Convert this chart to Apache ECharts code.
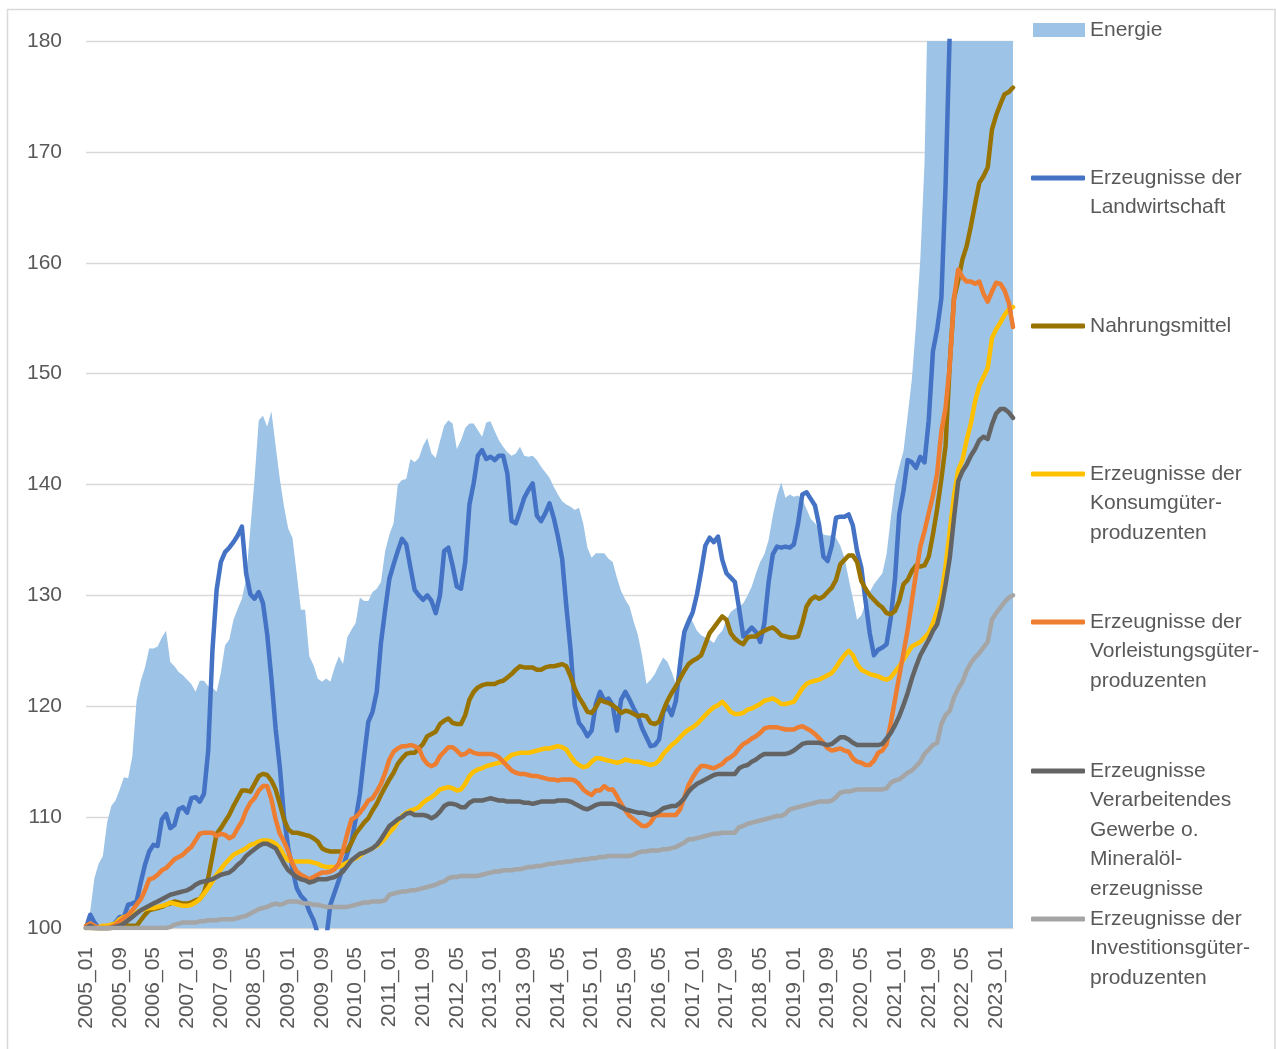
<!DOCTYPE html>
<html>
<head>
<meta charset="utf-8">
<title>Erzeugerpreise</title>
<script src="https://cdn.jsdelivr.net/npm/echarts@6/dist/echarts.min.js"></script>
<style>
  html, body { margin: 0; padding: 0; background: #fff; }
  #chart { width: 1276px; height: 1049px; }
</style>
</head>
<body>
<div id="chart"></div>
<script>
// Monatswerte 2005_01 .. 2023_05 (Index, 2005_01 = 100)
const months = []
for (let y = 2005; y <= 2023; y++) {
    for (let m = 1; m <= 12; m++) {
        if (y === 2023 && m > 5) break
        months.push(y + '_' + String(m).padStart(2, '0'))
    }
}

const yTicks = { min: 100, max: 180, interval: 10 }

const energie = [
    100, 101.5, 104.5, 105.8, 106.5, 109.5, 111, 111.5, 112.5, 113.6,
    113.5, 115.5, 120.5, 122.3, 123.5, 125.2, 125.2, 125.4, 126.2, 126.8,
    124, 123.6, 123.1, 122.8, 122.4, 122, 121.3, 122.3, 122.3, 121.8,
    121.7, 121.3, 123, 125.5, 126, 127.8, 128.8, 129.7, 131.5, 136,
    140.5, 145.8, 146.2, 145.2, 146.6, 143.5, 140.5, 138, 136, 135.2,
    132, 128.7, 128.7, 124.5, 123.7, 122.5, 122.2, 122.5, 122.2, 123.5,
    124.5, 123.8, 126.2, 126.9, 127.5, 129.8, 129.5, 129.5, 130.3, 130.6,
    131.2, 134, 135.5, 136.5, 140, 140.4, 140.5, 142.3, 142, 142.4,
    143.5, 144.2, 142.8, 142.4, 143.9, 145.3, 145.8, 145.5, 143.2, 144,
    145.1, 145.5, 145.5, 144.9, 144.3, 145.6, 145.7, 144.8, 144, 143.4,
    142.9, 142.6, 142.8, 143.4, 142.6, 142.5, 142.6, 142.2, 141.6, 141.1,
    140.6, 139.8, 139.1, 138.5, 138.2, 138, 137.7, 137.9, 136.5, 134.3,
    133.4, 133.8, 133.8, 133.8, 133.3, 133, 131.6, 130.4, 129.6, 129,
    127.6, 126.4, 124.5, 122, 122.4, 122.9, 123.7, 124.4, 124, 123.1,
    122, 125.8, 127.3, 128.2, 127.6, 126.8, 126.4, 126.2, 126, 125.7,
    126.4, 126.8, 127.8, 128.5, 128.8, 129, 129.3, 130, 130.8, 132,
    133, 133.7, 135, 137.2, 139, 140.2, 138.8, 139.1, 138.9, 139,
    138.7, 137.8, 136.9, 136.5, 136, 135.5, 135.4, 135.4, 135.2, 134.5,
    133.4, 131.5, 129.7, 127.8, 128.2, 129.3, 130.3, 131, 131.5, 132,
    133.7, 137, 140, 141.6, 143, 146.2, 149.5, 154.5, 160.3, 169,
    188, 195, 205, 215, 225, 240, 250, 260, 270, 280,
    285, 280, 275, 265, 255, 245, 235, 225, 215, 205, 200
]

const landwirtschaft = [
    100, 101.2, 100.5, 100, 100, 100, 100.2, 100.5, 101, 101,
    102.1, 102.2, 102.4, 104.1, 105.7, 106.9, 107.5, 107.4, 109.8, 110.3,
    109, 109.3, 110.7, 110.9, 110.4, 111.7, 111.8, 111.4, 112.1, 116,
    125, 130.5, 133, 133.9, 134.3, 134.8, 135.4, 136.2, 132, 130.1,
    129.7, 130.3, 129.3, 126.5, 122.5, 118, 114.5, 110, 107.2, 105.3,
    103.6, 102.9, 102.5, 101.5, 100.7, 99.5, 97.5, 99, 102.1, 103.2,
    104.3, 105.5, 106.7, 107.8, 109.8, 112.1, 115.5, 118.6, 119.5, 121.3,
    125.7, 128.7, 131.5, 132.8, 134, 135.1, 134.6, 132.5, 130.5, 130,
    129.6, 130, 129.5, 128.4, 130, 134, 134.3, 132.7, 130.8, 130.6,
    133, 138.2, 140.1, 142.6, 143.1, 142.3, 142.5, 142.2, 142.6, 142.6,
    141, 136.7, 136.5, 137.6, 138.8, 139.5, 140.1, 137.2, 136.7, 137.4,
    138.3, 137, 135.3, 133.3, 129, 125.1, 120.1, 118.5, 118, 117.3,
    117.8, 120.2, 121.3, 120.5, 120.7, 120.1, 117.8, 120.6, 121.3, 120.6,
    119.8, 119.1, 118, 117.2, 116.4, 116.5, 117, 119.5, 120, 119.2,
    120.5, 123.8, 126.7, 127.6, 128.5, 130.1, 132.2, 134.5, 135.2, 134.8,
    135.3, 133.2, 132, 131.6, 131.2, 128.8, 126.3, 126.7, 127.1, 126.7,
    125.8, 127.5, 131.2, 133.7, 134.4, 134.3, 134.4, 134.3, 134.6, 136.5,
    139.1, 139.3, 138.7, 138.1, 136.3, 133.5, 133.1, 134.5, 137, 137.1,
    137.1, 137.3, 136.3, 134, 132.5, 129.5, 126.6, 124.6, 125.1, 125.3,
    125.6, 128, 131.5, 137.3, 139.4, 142.2, 142, 141.5, 142.5, 142,
    145.8, 152, 154, 156.8, 167, 181, 185, 190, 192, 195,
    198, 200, 198, 195, 192, 190, 188, 186, 185, 184, 183
]

const nahrungsmittel = [
    100, 100, 99.9, 99.8, 99.8, 99.9, 100, 100.1, 100.3, 100.4,
    100.2, 100.2, 100.2, 100.7, 101.2, 101.6, 101.7, 101.8, 101.9, 102.1,
    102.2, 102.4, 102.3, 102.2, 102.2, 102.3, 102.5, 102.6, 103.2, 104.5,
    106.5, 108.5, 109, 109.6, 110.2, 111, 111.7, 112.4, 112.4, 112.3,
    113, 113.7, 113.9, 113.8, 113.3, 112.5, 111.2, 109.8, 108.9, 108.6,
    108.6, 108.5, 108.4, 108.3, 108.1, 107.8, 107.2, 107, 106.9, 106.9,
    106.9, 106.9, 107, 107.7, 108.5, 109, 109.5, 109.9, 110.6, 111.2,
    112, 112.7, 113.4, 114, 114.8, 115.3, 115.7, 115.8, 115.8, 116.2,
    116.6, 117.3, 117.5, 117.7, 118.4, 118.7, 118.9, 118.5, 118.4, 118.4,
    119.2, 120.6, 121.3, 121.7, 121.9, 122, 122, 122, 122.2, 122.3,
    122.6, 122.9, 123.3, 123.6, 123.5, 123.5, 123.5, 123.3, 123.3, 123.5,
    123.6, 123.6, 123.7, 123.8, 123.6, 122.7, 121.6, 120.8, 120.2, 119.5,
    119.4, 119.9, 120.6, 120.4, 120.3, 120.1, 119.8, 119.4, 119.6, 119.5,
    119.3, 119.1, 119.2, 119.1, 118.5, 118.4, 118.6, 119.6, 120.5, 121.2,
    121.8, 122.5, 123.2, 123.8, 124.1, 124.3, 124.6, 125.6, 126.6, 127.1,
    127.6, 128.1, 127.8, 126.6, 126.1, 125.8, 125.6, 126.2, 126.3, 126.3,
    126.6, 126.8, 127, 127.1, 126.8, 126.4, 126.3, 126.2, 126.2, 126.3,
    127.5, 129, 129.6, 129.9, 129.7, 129.9, 130.3, 130.7, 131.4, 132.8,
    133.2, 133.6, 133.6, 133, 131.3, 130.6, 130, 129.6, 129.2, 128.9,
    128.4, 128.3, 128.6, 129.5, 131, 131.4, 132.2, 132.7, 132.6, 132.7,
    133.5, 135.5, 137.8, 140.5, 143.5, 151, 156.8, 158.4, 160.3, 161.5,
    163.3, 165.3, 167.2, 167.8, 168.6, 172, 173.3, 174.3, 175.2, 175.4, 175.8
]

const konsumgueter = [
    100, 100, 100, 100.1, 100.2, 100.2, 100.3, 100.4, 100.8, 101,
    101.1, 101.2, 101.4, 101.6, 101.7, 101.8, 101.8, 101.9, 102, 102.1,
    102.3, 102.2, 102.1, 102, 102, 102.1, 102.3, 102.6, 103.1, 103.6,
    104.2, 104.8, 105.3, 105.8, 106.2, 106.6, 106.8, 107, 107.2, 107.5,
    107.6, 107.8, 107.9, 107.9, 107.8, 107.6, 107.2, 106.5, 106.1, 106,
    106, 106, 106, 106, 105.9, 105.8, 105.6, 105.5, 105.5, 105.5,
    105.5, 105.7, 105.9, 106.1, 106.3, 106.5, 106.8, 107, 107.2, 107.4,
    107.7, 108.1, 108.6, 109, 109.6, 110.1, 110.4, 110.6, 110.7, 110.9,
    111.3, 111.6, 111.8, 112.1, 112.5, 112.6, 112.7, 112.6, 112.4, 112.5,
    113, 113.7, 114.1, 114.3, 114.4, 114.6, 114.7, 114.8, 114.9, 115,
    115.3, 115.6, 115.7, 115.8, 115.8, 115.8, 115.9, 116, 116.1, 116.2,
    116.2, 116.3, 116.4, 116.3, 116.1, 115.5, 115, 114.7, 114.5, 114.6,
    115, 115.3, 115.3, 115.2, 115.1, 115, 114.9, 115, 115.2, 115.1,
    115, 115, 114.9, 114.8, 114.7, 114.8, 115.1, 115.7, 116.1, 116.5,
    116.8, 117.2, 117.6, 117.9, 118.1, 118.4, 118.8, 119.2, 119.6, 119.9,
    120.1, 120.4, 120, 119.5, 119.3, 119.3, 119.4, 119.7, 119.8, 120,
    120.2, 120.5, 120.6, 120.7, 120.5, 120.2, 120.2, 120.3, 120.4, 121,
    121.6, 122, 122.2, 122.3, 122.4, 122.6, 122.8, 123, 123.5, 124.1,
    124.6, 125, 124.6, 123.8, 123.3, 123.1, 122.9, 122.8, 122.7, 122.5,
    122.4, 122.6, 123.1, 123.6, 124.2, 124.8, 125.4, 125.6, 125.8, 126.2,
    126.6, 127.5, 128.6, 130, 132.6, 135.8, 139, 141.3, 142.2, 144,
    145.5, 147.5, 148.9, 149.7, 150.5, 153.2, 154, 154.6, 155.3, 155.8, 156
]

const vorleistungsgueter = [
    100.2, 100.4, 100.2, 100, 100, 100, 100.1, 100.3, 100.6, 100.9,
    101.2, 101.6, 102.1, 102.6, 103.4, 104.4, 104.5, 104.8, 105.2, 105.4,
    105.8, 106.2, 106.4, 106.6, 107, 107.3, 107.9, 108.5, 108.6, 108.6,
    108.6, 108.3, 108.5, 108.4, 108.1, 108.3, 109, 109.6, 110.6, 111.3,
    111.7, 112.4, 112.8, 112.8, 111.6, 109.8, 108.5, 107.8, 106.9, 105.8,
    105.1, 104.8, 104.6, 104.4, 104.6, 104.8, 105, 105, 105.1, 105.3,
    105.8, 107, 108.5, 109.8, 110, 110.4, 110.9, 111.5, 111.7, 112.3,
    113, 114, 115.2, 115.9, 116.2, 116.4, 116.4, 116.5, 116.4, 116.2,
    115.3, 114.8, 114.6, 114.8, 115.5, 115.9, 116.3, 116.3, 116, 115.6,
    115.7, 116, 115.8, 115.7, 115.7, 115.7, 115.7, 115.6, 115.4, 115,
    114.6, 114.2, 114, 113.9, 113.9, 113.8, 113.7, 113.7, 113.6, 113.5,
    113.4, 113.4, 113.3, 113.4, 113.4, 113.4, 113.3, 113, 112.5, 112.2,
    112, 112.4, 112.4, 112.8, 112.5, 112.5, 111.9, 111.2, 110.6, 110.1,
    109.8, 109.5, 109.2, 109.2, 109.5, 110.1, 110.2, 110.2, 110.2, 110.2,
    110.2, 110.7, 111.8, 112.9, 113.6, 114.2, 114.6, 114.6, 114.5, 114.4,
    114.6, 114.8, 115.2, 115.4, 115.7, 116.2, 116.6, 116.8, 117.1, 117.3,
    117.6, 118, 118.1, 118.1, 118.1, 118, 117.9, 117.9, 117.9, 118.1,
    118.2, 118, 117.8, 117.5, 117.1, 116.7, 116.2, 116, 116.1, 116.2,
    116, 115.9, 115.3, 115, 114.9, 114.7, 114.7, 115.1, 115.8, 116,
    116.6, 118.5, 120.6, 122.7, 124.8, 126.9, 129.5, 132, 134.4, 135.8,
    137.4, 139, 141, 144.8, 146.9, 150.8, 156.8, 159.4, 158.7, 158.3,
    158.3, 158.1, 158.3, 157.2, 156.5, 157.4, 158.2, 158.1, 157.5, 156.4, 154.2
]

const verarbeitendesGewerbe = [
    100, 100.2, 100, 99.9, 99.9, 99.9, 100, 100.1, 100.2, 100.4,
    100.7, 101, 101.3, 101.6, 101.8, 102, 102.2, 102.4, 102.6, 102.8,
    103, 103.1, 103.2, 103.3, 103.4, 103.6, 103.9, 104.1, 104.2, 104.3,
    104.4, 104.6, 104.8, 104.9, 105, 105.3, 105.7, 106, 106.5, 106.8,
    107.1, 107.4, 107.6, 107.6, 107.4, 107.2, 106.5, 105.8, 105.2, 104.9,
    104.6, 104.4, 104.3, 104.1, 104.2, 104.4, 104.4, 104.4, 104.5, 104.6,
    104.8, 105.1, 105.6, 106.1, 106.4, 106.7, 106.8, 107, 107.2, 107.5,
    108, 108.6, 109.2, 109.5, 109.8, 110, 110.3, 110.4, 110.2, 110.2,
    110.2, 110.1, 109.9, 110.1, 110.5, 111, 111.2, 111.2, 111.1, 110.9,
    110.9, 111.3, 111.5, 111.5, 111.5, 111.6, 111.7, 111.6, 111.5, 111.5,
    111.4, 111.4, 111.4, 111.4, 111.3, 111.3, 111.2, 111.3, 111.4, 111.4,
    111.4, 111.4, 111.5, 111.5, 111.5, 111.4, 111.2, 111, 110.8, 110.7,
    110.9, 111.1, 111.2, 111.2, 111.2, 111.2, 111.1, 110.9, 110.7, 110.6,
    110.5, 110.4, 110.4, 110.3, 110.2, 110.3, 110.5, 110.8, 110.9, 111,
    111, 111.3, 111.7, 112.3, 112.7, 113, 113.2, 113.4, 113.6, 113.8,
    113.9, 113.9, 113.9, 113.9, 113.9, 114.4, 114.6, 114.7, 115, 115.2,
    115.5, 115.7, 115.7, 115.7, 115.7, 115.7, 115.7, 115.8, 116, 116.3,
    116.6, 116.7, 116.7, 116.7, 116.7, 116.6, 116.5, 116.6, 116.9, 117.2,
    117.2, 117, 116.7, 116.5, 116.5, 116.5, 116.5, 116.5, 116.5, 116.6,
    117.1, 117.6, 118.3, 119.1, 120.1, 121.2, 122.5, 123.6, 124.6, 125.3,
    126, 126.8, 127.4, 128.9, 131, 133.4, 137, 140.3, 141.2, 141.8,
    142.6, 143.2, 144, 144.3, 144.1, 145.4, 146.4, 146.8, 146.8, 146.5, 146
]

const investitionsgueter = [
    100, 100, 100, 100, 100, 100, 100, 100, 100, 100,
    100, 100, 100, 100, 100, 100, 100, 100, 100, 100,
    100.1, 100.3, 100.4, 100.5, 100.5, 100.5, 100.5, 100.6, 100.6, 100.7,
    100.7, 100.7, 100.8, 100.8, 100.8, 100.8, 100.9, 101, 101.1, 101.3,
    101.5, 101.7, 101.8, 101.9, 102.1, 102.2, 102.1, 102.2, 102.4, 102.4,
    102.4, 102.3, 102.2, 102.2, 102.1, 102.1, 102, 101.9, 101.9, 101.9,
    101.9, 101.9, 101.9, 102, 102.1, 102.2, 102.3, 102.3, 102.4, 102.4,
    102.4, 102.5, 103, 103.1, 103.2, 103.3, 103.3, 103.4, 103.4, 103.5,
    103.6, 103.7, 103.8, 103.9, 104.1, 104.2, 104.5, 104.6, 104.6, 104.7,
    104.7, 104.7, 104.7, 104.7, 104.8, 104.9, 105, 105.1, 105.1, 105.2,
    105.2, 105.2, 105.3, 105.3, 105.4, 105.5, 105.5, 105.6, 105.6, 105.7,
    105.8, 105.8, 105.9, 105.9, 106, 106, 106.1, 106.1, 106.2, 106.2,
    106.3, 106.3, 106.4, 106.4, 106.5, 106.5, 106.5, 106.5, 106.5, 106.5,
    106.6, 106.8, 106.9, 106.9, 107, 107, 107, 107.1, 107.1, 107.2,
    107.3, 107.5, 107.7, 108, 108, 108.1, 108.2, 108.3, 108.4, 108.5,
    108.5, 108.6, 108.6, 108.6, 108.6, 109.1, 109.2, 109.4, 109.5, 109.6,
    109.7, 109.8, 109.9, 110, 110.1, 110.1, 110.3, 110.7, 110.8, 110.9,
    111, 111.1, 111.2, 111.3, 111.4, 111.4, 111.4, 111.5, 111.8, 112.2,
    112.3, 112.3, 112.4, 112.5, 112.5, 112.5, 112.5, 112.5, 112.5, 112.5,
    112.6, 113.1, 113.3, 113.4, 113.7, 114, 114.2, 114.6, 115, 115.7,
    116.1, 116.5, 116.7, 118.4, 119.2, 119.6, 120.8, 121.6, 122.2, 123.2,
    123.9, 124.4, 124.8, 125.3, 125.8, 127.8, 128.4, 128.9, 129.4, 129.8, 130
]

const seriesNames = [
    'Energie',
    'Erzeugnisse der\nLandwirtschaft',
    'Nahrungsmittel',
    'Erzeugnisse der\nKonsumgüter-\nproduzenten',
    'Erzeugnisse der\nVorleistungsgüter-\nproduzenten',
    'Erzeugnisse\nVerarbeitendes\nGewerbe o.\nMineralöl-\nerzeugnisse',
    'Erzeugnisse der\nInvestitionsgüter-\nproduzenten'
]
const seriesData = [energie, landwirtschaft, nahrungsmittel, konsumgueter,
    vorleistungsgueter, verarbeitendesGewerbe, investitionsgueter]
const colors = ['#9DC3E6', '#4472C4', '#997300', '#FFC000', '#ED7D31', '#646464', '#A5A5A5']

const font = 'Liberation Sans'
const textColor = '#595959'
const lineH = 29.5
// y of the first text line of each legend entry
const legendFirstLine = [30, 178, 326, 474, 622, 771, 919]

const chart = echarts.init(document.getElementById('chart'), null, { renderer: 'canvas' })

const legends = seriesNames.map((name, k) => {
    const n = name.split('\n').length
    const isArea = k === 0
    return {
        orient: 'vertical',
        left: isArea ? 1033 : 1031,
        top: legendFirstLine[k] - (n - 0.5) * lineH,
        padding: 0,
        itemWidth: isArea ? 52 : 54,
        itemHeight: isArea ? 14 : 5,
        itemGap: 0,
        selectedMode: false,
        data: [{ name: name, icon: isArea ? 'rect' : 'roundRect' }],
        // blank lines in front keep the icon level with the first line
        formatter: (nm) => '\n'.repeat(n - 1) + nm,
        textStyle: { fontFamily: font, fontSize: 21, lineHeight: lineH, color: textColor }
    }
})

const series = seriesNames.map((name, k) => {
    const s = {
        name: name,
        type: 'line',
        data: seriesData[k],
        showSymbol: false,
        symbol: 'none',
        clip: true,
        itemStyle: { color: colors[k] },
        lineStyle: { color: colors[k], width: 4.5, cap: 'round', join: 'round' },
        emphasis: { disabled: true }
    }
    if (k === 0) {
        s.lineStyle = { color: colors[0], width: 0 }
        s.areaStyle = { color: colors[0], opacity: 1, origin: 'start' }
    }
    return s
})

chart.setOption({
    animation: false,
    color: colors,
    textStyle: { fontFamily: font },
    grid: {
        left: 86,
        right: 263,
        top: 41,
        bottom: 121,
        containLabel: false,
        outerBoundsMode: 'none'
    },
    legend: legends,
    xAxis: {
        type: 'category',
        data: months,
        boundaryGap: false,
        axisLine: { lineStyle: { color: '#D9D9D9', width: 1.5 } },
        axisTick: { show: false },
        axisLabel: {
            interval: 7,
            rotate: 90,
            margin: 19,
            fontSize: 21,
            color: textColor,
            fontFamily: font
        },
        splitLine: { show: false }
    },
    yAxis: {
        type: 'value',
        min: yTicks.min,
        max: yTicks.max,
        interval: yTicks.interval,
        axisLine: { show: false },
        axisTick: { show: false },
        axisLabel: { margin: 24, fontSize: 21, color: textColor, fontFamily: font },
        splitLine: { lineStyle: { color: '#D9D9D9', width: 1.3 } }
    },
    graphic: [{
        type: 'rect',
        silent: true,
        shape: { x: 7.5, y: 9.5, width: 1267.5, height: 1060 },
        style: { fill: 'none', stroke: '#D9D9D9', lineWidth: 1.5 }
    }],
    series: series
})
</script>
</body>
</html>
